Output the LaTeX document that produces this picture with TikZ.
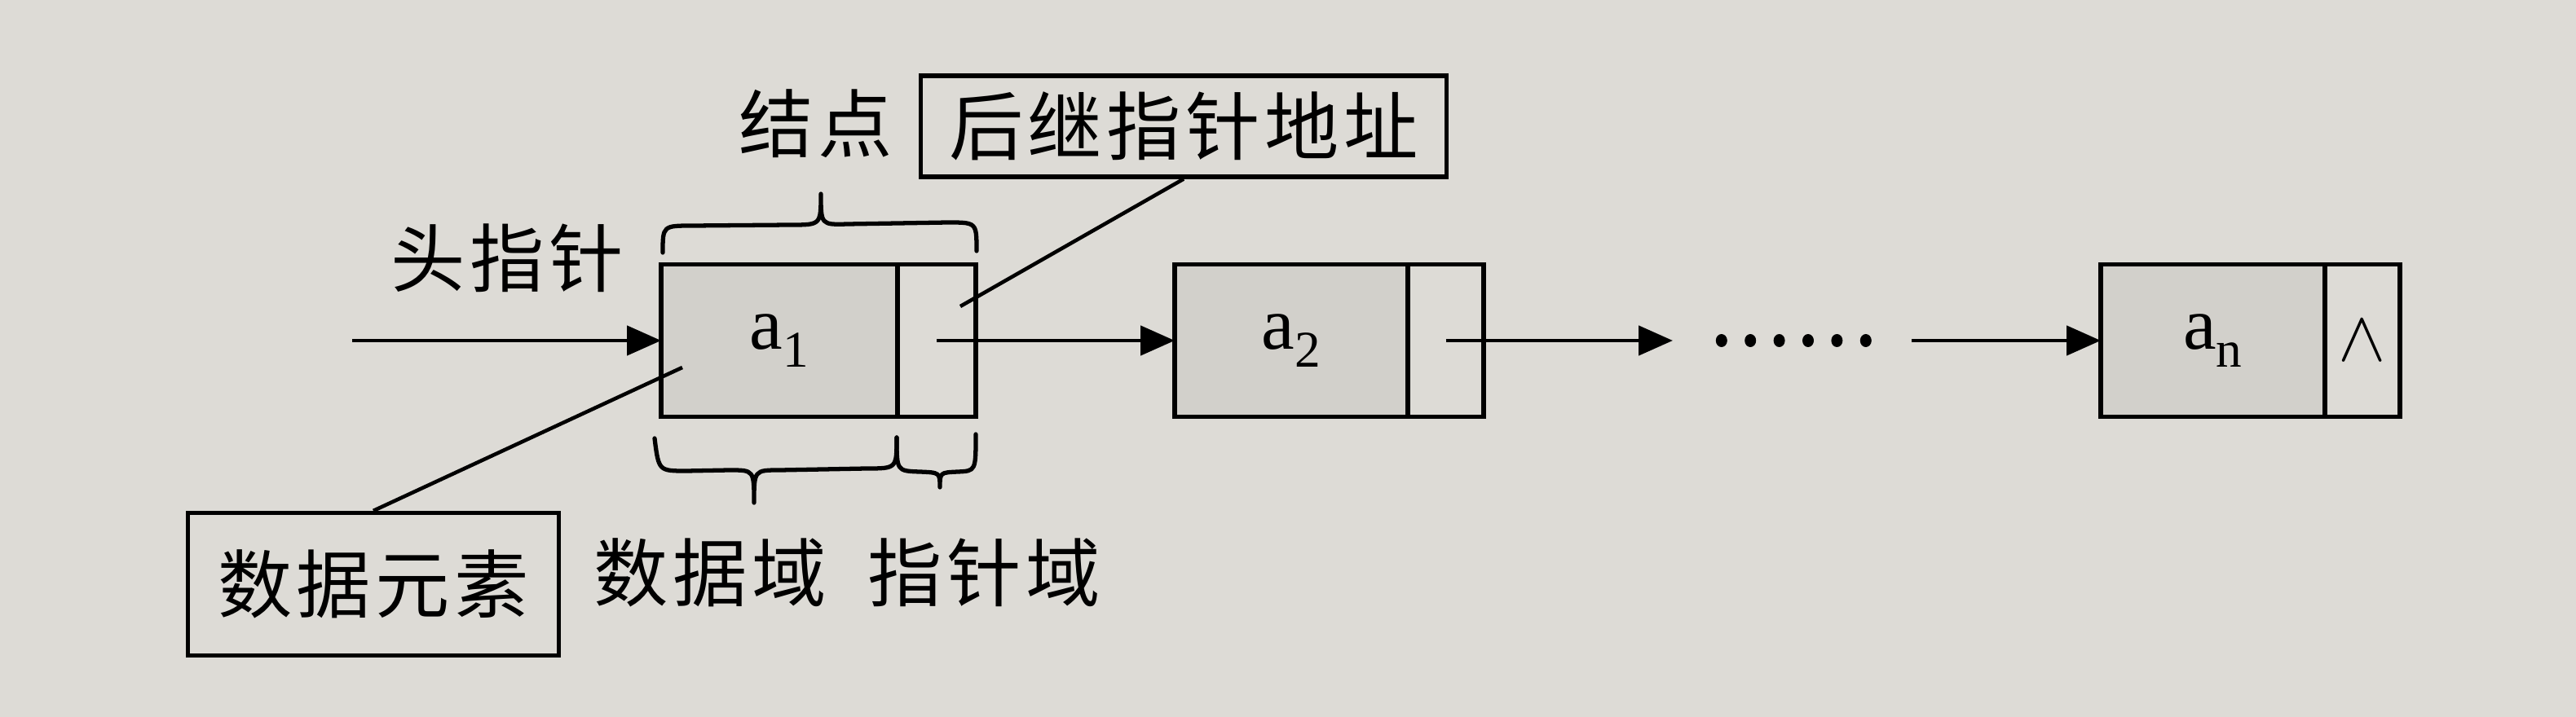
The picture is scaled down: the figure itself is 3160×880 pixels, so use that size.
\documentclass[tikz,border=0pt]{standalone}
\usepackage{fontspec}
\setmainfont{Liberation Serif}
\newfontfamily\cjk[LetterSpace=6]{Noto Sans CJK SC}
\usetikzlibrary{arrows.meta}
\definecolor{paper}{HTML}{DDDBD6}
\definecolor{datafill}{HTML}{D2D0CB}
\newcommand\elemtxt[1]{{\fontsize{26}{26}\selectfont a\raisebox{-0.25em}{\fontsize{18}{18}\selectfont #1}}}
\begin{document}
\begin{tikzpicture}[x=0.1mm,y=-0.1mm,
  field/.style={draw, line width=1.7pt, minimum height=18.7mm, inner sep=0pt, outer sep=0pt},
  datafield/.style={field, fill=datafill},
  ptrfield/.style={field, fill=paper},
  cjklabel/.style={font=\cjk\fontsize{26}{30}\selectfont, inner sep=0pt},
  labelbox/.style={cjklabel, draw, line width=1.5pt, fill=paper},
  conn/.style={line width=1.4pt, -{Triangle[length=4.2mm,width=3.6mm]}},
  leader/.style={line width=1.3pt},
  bracepath/.style={line width=1.5pt, line join=round, line cap=round}
]
\fill[paper] (0,0) rectangle (3160,880);
\useasboundingbox (0,0) rectangle (3160,880);

% list nodes
\node[datafield, minimum width=29.0mm, anchor=west] (d1) at (811,418) {\elemtxt{1}};
\node[ptrfield, minimum width=9.6mm, anchor=west] (p1) at (d1.east) {};
\node[datafield, minimum width=28.6mm, anchor=west] (d2) at (1441,418) {\elemtxt{2}};
\node[ptrfield, minimum width=9.3mm, anchor=west] (p2) at (d2.east) {};
\node[datafield, minimum width=27.5mm, anchor=west] (dn) at (2577,418) {\elemtxt{n}};
\node[ptrfield, minimum width=9.2mm, anchor=west] (pn) at (dn.east) {{\fontsize{40}{40}\selectfont$\wedge$}};

% connectors
\coordinate (hs) at (432,418);
\draw[conn] (hs) -- (d1.west);
\draw[conn] (p1.center) -- (d2.west);
\coordinate (a2end) at (2052,418);
\draw[conn] (p2.center) -- (a2end);
\node[minimum width=17.7mm, minimum height=2mm, inner sep=0pt] (dots) at (2201,418) {};
\foreach \k in {0,...,5}
  \fill ([xshift=\k*3.54mm]dots.west) ellipse [x radius=0.7mm, y radius=0.8mm];
\coordinate (nstart) at (2345,418);
\draw[conn] (nstart) -- (dn.west);

% labels
\node[cjklabel] (head) at (622,317) {头指针};
\node[cjklabel] (jd) at (1001,152) {结点};
\node[labelbox, minimum width=64.5mm, minimum height=12.4mm] (succ) at (1452,155) {后继指针地址};
\coordinate (succend) at (1178,376);
\draw[leader] (succ.south) -- (succend);
\node[labelbox, minimum width=45.5mm, minimum height=17.5mm] (elem) at (458,717) {数据元素};
\coordinate (elemend) at (837,451);
\draw[leader] (elem.north) -- (elemend);
\node[cjklabel] (dd) at (871,703) {数据域};
\node[cjklabel] (pd) at (1207,703) {指针域};

% braces
\draw[bracepath] (813,310) .. controls (813,277) .. (850,277) -- (970,276)
  .. controls (1007,276) .. (1007,238) .. controls (1007,276) .. (1040,275)
  -- (1163,273) .. controls (1198,273) .. (1198,308);
\draw[bracepath] (803,538) .. controls (808,578) .. (842,578) -- (895,577)
  .. controls (925,577) .. (925,617) .. controls (925,577) .. (957,577)
  -- (1063,575) .. controls (1100,575) .. (1100,537);
\draw[bracepath] (1100,537) .. controls (1100,578) .. (1128,579)
  .. controls (1153,580) .. (1153,598) .. controls (1153,580) .. (1175,579)
  .. controls (1197,578) .. (1197,533);
\end{tikzpicture}
\end{document}
